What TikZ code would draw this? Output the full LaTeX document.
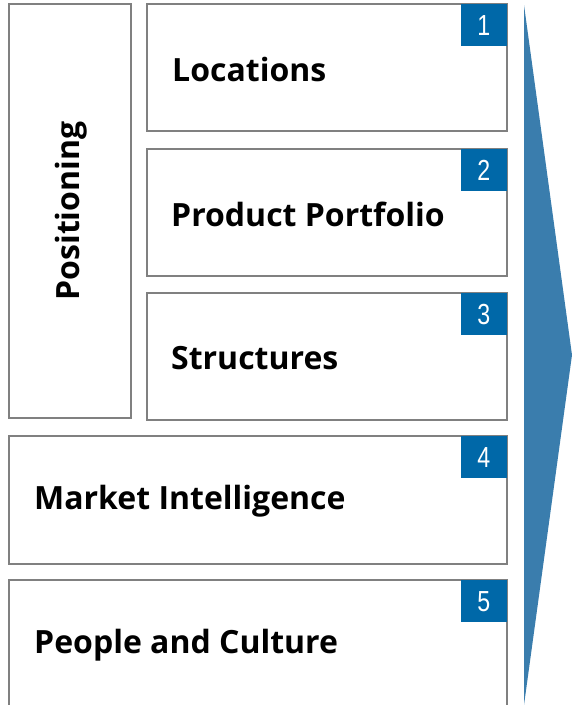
\documentclass[tikz,border=0pt]{standalone}
\usepackage{fontspec}
\setmainfont{Open Sans}
\newfontfamily\numfont[FakeStretch=0.8]{Liberation Sans}
\usetikzlibrary{positioning}
\definecolor{framegray}{HTML}{808080}
\definecolor{badgeblue}{HTML}{0068A8}
\definecolor{arrowblue}{HTML}{3A7DAD}

\tikzset{
  field/.style={draw=framegray, line width=1.4pt, fill=white, inner sep=0pt},
  badge/.style={fill=badgeblue, text=white, inner sep=0pt, minimum width=46pt,
    minimum height=42pt, font=\numfont\fontsize{29}{29}\selectfont},
  label/.style={font=\bfseries\fontsize{32}{34}\selectfont, anchor=west, inner sep=0pt}
}

\begin{document}
\begin{tikzpicture}[x=1pt, y=-1pt]

  % Page frame
  \useasboundingbox (0,0) rectangle (572,705);
  \clip (0,0) rectangle (572,705);

  % Big arrow on the right
  \fill[arrowblue] (524,5) -- (572,355) -- (524,705) -- cycle;

  % Positioning column
  \draw[field] (9,4) rectangle (131,418);
  \node[rotate=90, font=\bfseries\fontsize{32}{34}\selectfont] (pos) at (71,211) {Positioning};

  % Boxes 1 to 3
  \draw[field] (147,4) rectangle (507,131);
  \draw[field] (147,149) rectangle (507,276);
  \draw[field] (147,293) rectangle (507,420);

  % Boxes 4 and 5
  \draw[field] (9,436) rectangle (507,564);
  \draw[field] (9,580) rectangle (507,720);

  % Number badges
  \node[badge, anchor=north east] (n1) at (507,4) {1};
  \node[badge, anchor=north east] (n2) at (507,149) {2};
  \node[badge, anchor=north east] (n3) at (507,293) {3};
  \node[badge, anchor=north east] (n4) at (507,436) {4};
  \node[badge, anchor=north east] (n5) at (507,580) {5};

  % Labels
  \node[label] (loc) at (172,69) {Locations};
  \node[label] (prod) at (171,214) {Product Portfolio};
  \node[label] (struc) at (171,358) {Structures};
  \node[label] (mark) at (34,501) {Market Intelligence};
  \node[label] (peop) at (34,645) {People and Culture};
\end{tikzpicture}
\end{document}
